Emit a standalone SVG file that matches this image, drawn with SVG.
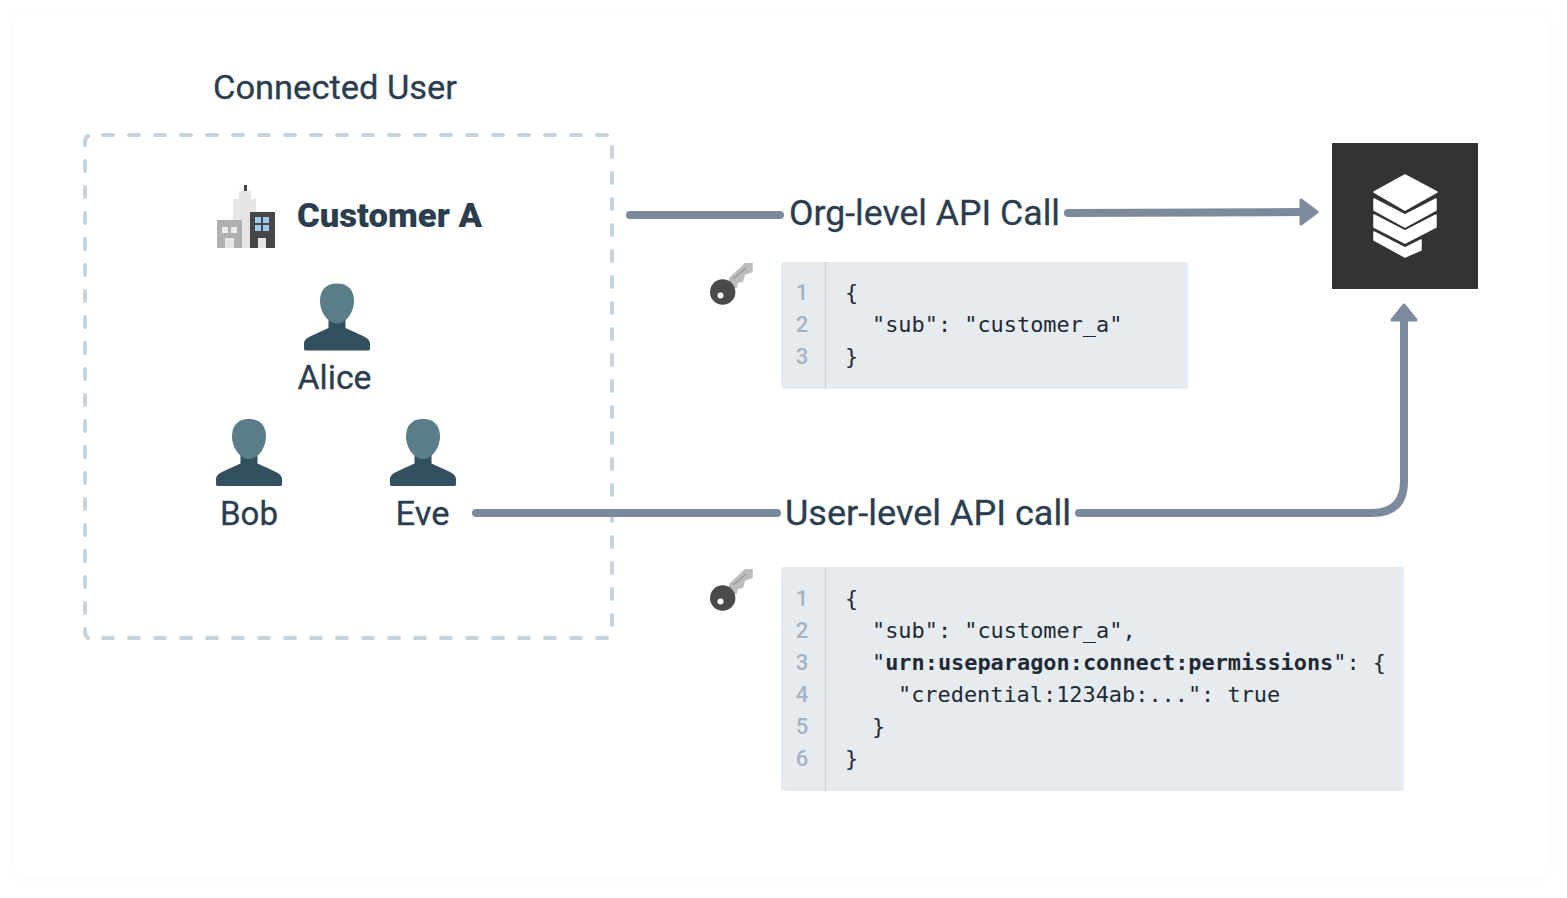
<svg xmlns="http://www.w3.org/2000/svg" width="1567" height="898" viewBox="0 0 1567 898">
<style>
.t{font-family:"Roboto","Liberation Sans",sans-serif;fill:#2b3d4f}
.l{font-size:34px;stroke:#2b3d4f;stroke-width:.3}
.m{font-family:"DejaVu Sans Mono","Liberation Mono",monospace;font-size:21.9px;fill:#1f2a36}
.n{font-family:"Roboto","Liberation Sans",sans-serif;font-size:22px;font-weight:500;fill:#a3b3c2}
.b{font-weight:700}
.c{fill:none;stroke:#7b8b9c;stroke-width:8;stroke-linecap:round;stroke-linejoin:round}
.a{fill:#7b8b9c;stroke:#7b8b9c;stroke-width:3;stroke-linejoin:round}
.panel{fill:#e6ebef}
.gut{stroke:#cdd4db;stroke-width:1.5}
.h{fill:#5b7d88}.s{fill:#33505f}
.d{fill:none;stroke:#c5d3de;stroke-width:4;stroke-linecap:round;stroke-dasharray:10 16}
.k{fill:none;stroke:#c5d3de;stroke-width:4;stroke-linecap:round}
.ly{fill:#fff;stroke:#fff;stroke-width:1.500;stroke-linejoin:round}
</style>
<defs>
<filter id="sh" x="-3%" y="-3%" width="106%" height="106%"><feGaussianBlur stdDeviation="5"/></filter>
<g id="person"><path class="s" d="M-33 32 Q-33 33.500 -31 33.500 H31 Q33 33.500 33 32 V27 C33 23 30 21 26 19 L8.500 11 V0 H-8.500 V11 L-26 19 C-30 21 -33 23 -33 27 Z"/><path class="h" d="M0 -33.500 C12 -33.500 17 -26 17 -16 C17 -6 10 6.500 0 6.500 C-10 6.500 -17 -6 -17 -16 C-17 -26 -12 -33.500 0 -33.500 Z"/></g>
<g id="key"><path d="M18 -14 L34 -29 L41.700 -29 L41.700 -20 L34 -17 L32 -10 L27 -9 L25.700 -4 L18 -4 Z" fill="#bdbdbd"/><path d="M22 -13 L35 -24" stroke="#9a9a9a" stroke-width="1.500" fill="none"/><circle cx="11.700" cy="0" r="12.700" fill="#4a4a4a"/><circle cx="9.500" cy="3.500" r="3" fill="#fff"/></g>
</defs>
<rect x="12" y="12" width="1538" height="868" rx="14" fill="#000" opacity="0.018" filter="url(#sh)"/>
<rect x="14" y="12" width="1534" height="864" rx="12" fill="#fff"/>

<g id="connected-user">
<path class="d" d="M103 135 H608"/>
<path class="d" d="M103 638 H608"/>
<path class="d" d="M85 161 V614"/>
<path class="d" d="M612 147 V626"/>
<path class="k" d="M85 145 V142 Q85 138 88 136"/>
<path class="k" d="M85 629 V632 Q85 636 88 638"/>
<text class="t l" x="213" y="99" textLength="244" lengthAdjust="spacingAndGlyphs" style="font-size:33px">Connected User</text>
</g>

<g id="customer-a">
<path d="M244 185 h3 v9 h-3z" fill="#444"/>
<path d="M239 191 h12 v8 h5 v49 h-23 v-49 h6z" fill="#e6e6e6"/>
<rect x="217" y="220" width="25" height="28" fill="#b0b0b0"/>
<rect x="222" y="227" width="6" height="6" fill="#eee"/><rect x="231" y="227" width="6" height="6" fill="#eee"/><rect x="225" y="238" width="9" height="10" fill="#e6e6e6"/>
<rect x="250" y="212" width="25" height="36" fill="#474747"/>
<rect x="255" y="217" width="6" height="6" fill="#9cc9ee"/><rect x="263" y="217" width="6" height="6" fill="#9cc9ee"/><rect x="255" y="225" width="6" height="6" fill="#9cc9ee"/><rect x="263" y="225" width="6" height="6" fill="#9cc9ee"/><rect x="258" y="238" width="8" height="10" fill="#e6e6e6"/>
<text class="t b" x="297" y="227" textLength="185" lengthAdjust="spacingAndGlyphs" style="font-size:33px;font-weight:900">Customer A</text>
</g>

<g id="alice"><use href="#person" x="337" y="317"/><text class="t l" x="334.500" y="389" text-anchor="middle" textLength="74" lengthAdjust="spacingAndGlyphs">Alice</text></g>
<g id="bob"><use href="#person" x="249" y="452.500"/><text class="t l" x="249" y="525" text-anchor="middle" textLength="58" lengthAdjust="spacingAndGlyphs">Bob</text></g>
<g id="eve"><use href="#person" x="423" y="452.500"/><text class="t l" x="422.500" y="525" text-anchor="middle" textLength="54" lengthAdjust="spacingAndGlyphs">Eve</text></g>

<g id="connectors">
<path class="c" d="M630 215 H780"/>
<path class="c" d="M1068 213 L1302 212"/>
<path class="a" d="M1301 200 L1317 212 L1301 224 Z"/>
<path class="c" d="M476 513 H777"/>
<path class="c" d="M1079 513 H1372 Q1404 513 1404 481 V320"/>
<path class="a" d="M1392 320 L1404 305 L1416 320 Z"/>
</g>
<text class="t l" x="789" y="225" textLength="271" lengthAdjust="spacingAndGlyphs" style="font-size:35px" id="label-org">Org-level API Call</text>
<text class="t l" x="785" y="525" textLength="286" lengthAdjust="spacingAndGlyphs" style="font-size:35px" id="label-user">User-level API call</text>

<g id="api-node">
<rect x="1332" y="143" width="146" height="146" fill="#333"/>
<path class="ly" d="M1405 175 L1437 192 L1405 210 L1374 192 Z"/>
<path class="ly" d="M1374 199 L1405 215 L1436 199 V210 L1405 227 L1374 210 Z"/>
<path class="ly" d="M1374 215 L1405 231 L1436 215 V227 L1405 243 L1374 227 Z"/>
<path class="ly" d="M1374 232 L1405 248 L1421 240 V250 L1405 257 L1374 240 Z"/>
</g>

<g id="key-org"><use href="#key" x="711" y="292"/></g>
<g id="key-user"><use href="#key" x="711" y="598"/></g>

<g id="code-org">
<rect class="panel" x="781" y="262" width="407" height="127" rx="3"/>
<line class="gut" x1="825.500" y1="262" x2="825.500" y2="389"/>
<text class="n" x="802" y="300" text-anchor="middle">1</text><text class="n" x="802" y="332" text-anchor="middle">2</text><text class="n" x="802" y="364" text-anchor="middle">3</text>
<text class="m" x="845" y="300">{</text>
<text class="m" x="872" y="332">"sub": "customer_a"</text>
<text class="m" x="845" y="364">}</text>
</g>

<g id="code-user">
<rect class="panel" x="781" y="567" width="623" height="224" rx="3"/>
<line class="gut" x1="825.500" y1="567" x2="825.500" y2="791"/>
<text class="n" x="802" y="606" text-anchor="middle">1</text><text class="n" x="802" y="638" text-anchor="middle">2</text><text class="n" x="802" y="670" text-anchor="middle">3</text><text class="n" x="802" y="702" text-anchor="middle">4</text><text class="n" x="802" y="734" text-anchor="middle">5</text><text class="n" x="802" y="766" text-anchor="middle">6</text>
<text class="m" x="845" y="606">{</text>
<text class="m" x="872" y="638">"sub": "customer_a",</text>
<text class="m" x="872" y="670">"<tspan class="b">urn:useparagon:connect:permissions</tspan>": {</text>
<text class="m" x="898" y="702">"credential:1234ab:...": true</text>
<text class="m" x="872" y="734">}</text>
<text class="m" x="845" y="766">}</text>
</g>
</svg>
